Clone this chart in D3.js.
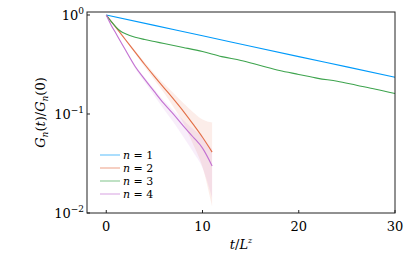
<html>
<head>
<script src="https://d3js.org/d3.v7.min.js"></script>
<style>
  body { margin: 0; background: #fff; }
  .frame { fill: none; stroke: #222; stroke-width: 1px; }
  .series { fill: none; stroke-width: 1.1px; }
</style>
</head>
<body>
<svg id="chart" width="407" height="271"></svg>
<script>
// n = 1 (blue)
const t1 = [0, 5, 10, 15, 20, 25, 30];
const g1 = [1, 0.785, 0.617, 0.484, 0.380, 0.299, 0.235];

// n = 2 (orange) with ribbon
const t2 = [0, 1, 2, 3, 4, 5, 6, 7, 8, 9, 10, 11];
const g2 = [1, 0.750, 0.562, 0.422, 0.316, 0.240, 0.184, 0.141, 0.107, 0.0794, 0.0582, 0.0412];
const g2hi = [1, 0.759, 0.575, 0.437, 0.331, 0.257, 0.202, 0.162, 0.129, 0.105, 0.0881, 0.0822];
const g2lo = [1, 0.741, 0.550, 0.407, 0.299, 0.221, 0.164, 0.117, 0.0813, 0.0501, 0.0292, 0.0116];

// n = 3 (green)
const t3 = [0, 0.5, 1, 1.5, 2, 3, 4, 5, 6, 8, 10, 12, 14, 16, 18, 20, 22, 24, 26, 28, 30];
const g3 = [1, 0.861, 0.759, 0.684, 0.646, 0.596, 0.565, 0.540, 0.515, 0.470, 0.427, 0.380, 0.347, 0.309, 0.275, 0.251, 0.229, 0.214, 0.195, 0.178, 0.161];

// n = 4 (purple) with ribbon
const t4 = [0, 0.5, 1, 1.5, 2, 3, 4, 5, 6, 7, 8, 9, 10, 11];
const g4 = [1, 0.794, 0.653, 0.537, 0.442, 0.302, 0.224, 0.168, 0.127, 0.0989, 0.0759, 0.0589, 0.0452, 0.0299];
const g4hi = [1, 0.800, 0.661, 0.547, 0.452, 0.313, 0.234, 0.178, 0.136, 0.108, 0.0871, 0.0708, 0.0582, 0.0442];
const g4lo = [1, 0.789, 0.646, 0.527, 0.432, 0.288, 0.209, 0.153, 0.111, 0.0822, 0.0589, 0.0417, 0.0285, 0.0143];

const xTicks = [0, 10, 20, 30];
const yTicks = [1, 0.1, 0.01];
const yTickExp = ["0", "\u22121", "\u22122"];
const labels = ["1", "2", "3", "4"];
const colors = ["#009AFA", "#E36F47", "#3EA44E", "#C371D2"];

const FONT = "'DejaVu Serif', serif";

const svg = d3.select("#chart");
const m = {left: 87, right: 395, top: 12, bottom: 213};

const x = d3.scaleLinear().domain([-2, 30]).range([m.left, m.right]);
const y = d3.scaleLog().domain([0.01, 1.072]).range([m.bottom, m.top]);

const line = d3.line().curve(d3.curveMonotoneX).x(d => x(d[0])).y(d => y(d[1]));
const area = d3.area().curve(d3.curveMonotoneX).x(d => x(d[0])).y0(d => y(d[1])).y1(d => y(d[2]));

const plot = svg.append("g");

// ribbons
plot.append("path").datum(t2.map((t, i) => [t, g2lo[i], g2hi[i]]))
    .attr("d", area).attr("fill", colors[1]).attr("fill-opacity", 0.12);
plot.append("path").datum(t4.map((t, i) => [t, g4lo[i], g4hi[i]]))
    .attr("d", area).attr("fill", colors[3]).attr("fill-opacity", 0.12);

const series = [
  t1.map((t, i) => [t, g1[i]]),
  t2.map((t, i) => [t, g2[i]]),
  t3.map((t, i) => [t, g3[i]]),
  t4.map((t, i) => [t, g4[i]])
];
series.forEach((s, i) => {
  plot.append("path").datum(s).attr("class", "series")
      .attr("stroke", colors[i]).attr("d", line);
});

// frame
svg.append("rect").attr("class", "frame")
   .attr("x", m.left).attr("y", m.top).attr("width", m.right - m.left).attr("height", m.bottom - m.top);

// x ticks
const xt = svg.append("g");
xTicks.forEach(v => {
  xt.append("line").attr("x1", x(v)).attr("x2", x(v)).attr("y1", m.bottom).attr("y2", m.bottom - 3)
    .attr("stroke", "#222");
  xt.append("text").attr("x", x(v)).attr("y", m.bottom + 18).attr("text-anchor", "middle")
    .style("font-family", FONT).style("font-size", "13px").text(v);
});

// y ticks
const yt = svg.append("g");
yTicks.forEach((v, i) => {
  yt.append("line").attr("x1", m.left).attr("x2", m.left + 3).attr("y1", y(v)).attr("y2", y(v))
    .attr("stroke", "#222");
  const tx = yt.append("text").attr("x", m.left - 3).attr("y", y(v) + 5).attr("text-anchor", "end")
    .style("font-family", FONT).style("font-size", "13px");
  tx.append("tspan").text("10");
  tx.append("tspan").attr("dy", -6).style("font-size", "9px").text(yTickExp[i]);
});

// x title
const xl = svg.append("text").attr("x", (m.left + m.right) / 2).attr("y", 249)
   .attr("text-anchor", "middle").style("font-family", FONT).style("font-size", "13px");
xl.append("tspan").style("font-style", "italic").text("t");
xl.append("tspan").text("/");
xl.append("tspan").style("font-style", "italic").text("L");
xl.append("tspan").style("font-style", "italic").attr("dy", -6).style("font-size", "8px").text("z");

// y title
const yl = svg.append("text").attr("transform", "translate(45," + ((m.top + m.bottom) / 2) + ") rotate(-90)")
   .attr("text-anchor", "middle").style("font-family", FONT).style("font-size", "13px");
yl.append("tspan").style("font-style", "italic").text("G");
yl.append("tspan").style("font-style", "italic").style("font-size", "9px").attr("dy", 3).text("n");
yl.append("tspan").attr("dy", -3).text("(");
yl.append("tspan").style("font-style", "italic").text("t");
yl.append("tspan").text(")/");
yl.append("tspan").style("font-style", "italic").text("G");
yl.append("tspan").style("font-style", "italic").style("font-size", "9px").attr("dy", 3).text("n");
yl.append("tspan").attr("dy", -3).text("(0)");

// legend
const lg = svg.append("g");
labels.forEach((lab, i) => {
  const ly = 155 + i * 13;
  lg.append("line").attr("x1", 100).attr("x2", 120).attr("y1", ly).attr("y2", ly)
    .attr("stroke", colors[i]).attr("stroke-opacity", 0.55).attr("stroke-width", 1.2);
  const tx = lg.append("text").attr("x", 123).attr("y", ly + 4)
    .style("font-family", FONT).style("font-size", "11px");
  tx.append("tspan").style("font-style", "italic").text("n");
  tx.append("tspan").text(" = " + lab);
});
</script>
</body>
</html>
